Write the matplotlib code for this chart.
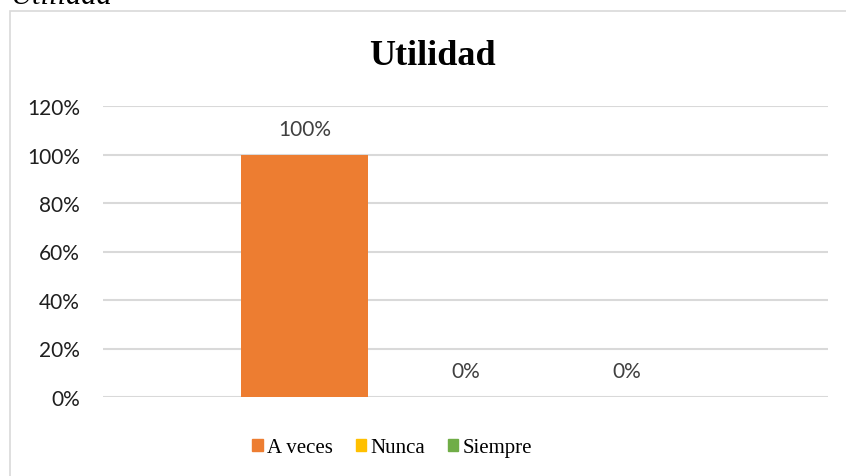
import matplotlib
matplotlib.use("Agg")
import matplotlib.pyplot as plt
from matplotlib.patches import Rectangle

# Data
series = ["A veces", "Nunca", "Siempre"]
values = [1.00, 0.00, 0.00]
colors = ["#ED7D31", "#FFC000", "#70AD47"]
yticks = [0, 0.2, 0.4, 0.6, 0.8, 1.0, 1.2]
ytick_labels = ["0%", "20%", "40%", "60%", "80%", "100%", "120%"]

W, H = 846, 477
fig = plt.figure(figsize=(W / 100, H / 100), dpi=100)
ax = fig.add_axes([103 / W, (H - 398) / H, 725 / W, 291 / H])

positions = list(range(len(series)))
bars = ax.bar(positions, values, width=0.79, color=colors, zorder=3)

for x, v in zip(positions, values):
    ax.annotate(f"{v:.0%}", (x, v), xytext=(0, 18.5), textcoords="offset points",
                ha="center", va="center", fontsize=15, family="Lato", color="#404040")

ax.set_xlim(-1.25, 3.25)
ax.set_ylim(0, 1.2)
ax.set_yticks(yticks)
ax.set_yticklabels(ytick_labels, family="Lato", fontsize=15, color="#1f1f1f")
ax.set_xticks([])
ax.tick_params(axis="y", length=0, pad=16.5)
ax.grid(axis="y", color="#d9d9d9", linewidth=1.5, zorder=0)
for s in ax.spines.values():
    s.set_visible(False)

# Chart title
fig.text(432 / W, (H - 65) / H, "Utilidad", ha="center", va="baseline",
         family="Liberation Serif", fontweight="bold", fontsize=26, color="black")

# Caption cut off at the top of the picture
fig.text(10 / W, (H - 4) / H, "Utilidad", ha="left", va="baseline",
         family="Liberation Serif", style="italic", fontsize=22, color="black")

# Chart area border
fig.add_artist(Rectangle((9.5 / W, -0.1), 2, (H - 11.5) / H + 0.1, transform=fig.transFigure,
                         fill=False, edgecolor="#d9d9d9", linewidth=1.2))

# Legend
handles = [Rectangle((0, 0), 1, 1, color=c) for c in colors]
fig.legend(handles, series, loc="center", bbox_to_anchor=(392 / W, (H - 449) / H), ncol=3,
           frameon=False, prop={"family": "Liberation Serif", "size": 15},
           handlelength=0.5, handleheight=0.5, handletextpad=0.2, columnspacing=1.1)

fig.savefig("out.png", dpi=100)
